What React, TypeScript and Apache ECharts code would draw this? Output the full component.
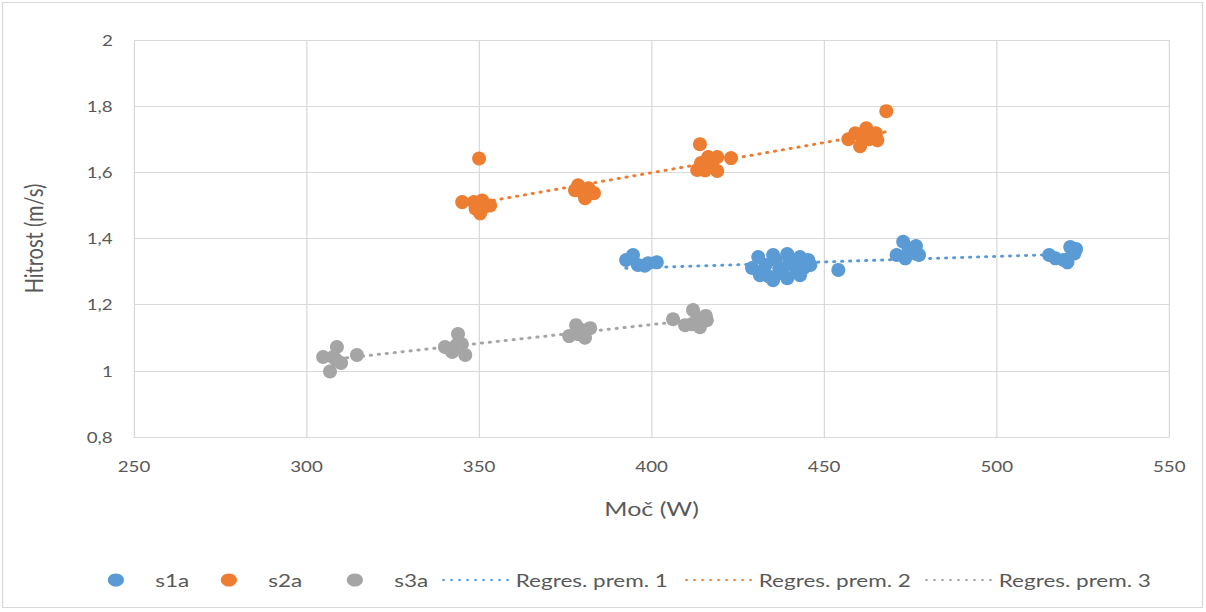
import React, { useEffect, useRef } from "react";
import * as echarts from "echarts";

type P = [number, number];

const s1a: P[] = [
  [394.6, 1.35], [392.6, 1.335], [396, 1.32], [399, 1.325], [401.5, 1.328], [398, 1.318],
  [430.9, 1.344], [435.2, 1.35], [439.3, 1.353], [443.0, 1.344], [445.4, 1.335],
  [431.4, 1.289], [435.2, 1.274], [439.3, 1.28], [443.0, 1.289], [429.1, 1.311], [445.0, 1.326],
  [433, 1.32], [437, 1.31], [441, 1.32], [436, 1.335], [440, 1.33], [444, 1.31],
  [432, 1.3], [438, 1.295], [442, 1.305], [434, 1.285], [446, 1.32],
  [454.1, 1.305],
  [472.9, 1.39], [476.6, 1.377], [471, 1.35], [473.5, 1.34], [476.8, 1.355], [474.5, 1.365], [477.5, 1.35],
  [515.2, 1.35], [521.3, 1.374], [523, 1.368], [519.4, 1.335], [517, 1.34], [522.5, 1.355], [520.5, 1.328],
];

const s2a: P[] = [
  [350, 1.642],
  [345.1, 1.51], [348.5, 1.51], [350.9, 1.515], [353.2, 1.5], [350.3, 1.476], [351.5, 1.495], [349, 1.49],
  [378.7, 1.561], [380, 1.54], [380.7, 1.522], [383.3, 1.537], [377.8, 1.546], [381.7, 1.552],
  [414, 1.685], [413.2, 1.607], [414.3, 1.628], [416.4, 1.646], [419, 1.646], [419, 1.604],
  [415.5, 1.606], [423, 1.643], [417.5, 1.625],
  [457, 1.70], [459, 1.718], [460.4, 1.679], [462.2, 1.733], [463, 1.70], [465, 1.718],
  [465.4, 1.697], [461.3, 1.70], [468, 1.785],
];

const s3a: P[] = [
  [304.8, 1.042], [307.7, 1.042], [308.8, 1.072], [306.8, 0.998], [310, 1.024], [308.6, 1.033], [314.6, 1.048],
  [340.1, 1.072], [342.2, 1.057], [343.9, 1.111], [345, 1.08], [346, 1.048], [341.6, 1.066], [343.5, 1.078],
  [376.1, 1.105], [378.1, 1.138], [379.9, 1.123], [382.2, 1.129], [380.7, 1.1], [378.7, 1.111],
  [406.2, 1.156], [412, 1.184], [409.7, 1.138], [411.7, 1.141], [414, 1.132], [416, 1.153], [415.7, 1.166], [413.2, 1.16],
];

const seriesNames = ["s1a", "s2a", "s3a"];
const trendNames = ["Regres. prem. 1", "Regres. prem. 2", "Regres. prem. 3"];
const colors = ["#5b9bd5", "#ed7d31", "#a5a5a5"];
const xTicks = { min: 250, max: 550, interval: 50 };
const yTicks = { min: 0.8, max: 2, interval: 0.2 };

// horizontal stretch of the reference's rendering
const SX = 1.25;

function linearFit(pts: P[]): P[] {
  const n = pts.length;
  let sx = 0, sy = 0, sxx = 0, sxy = 0;
  for (const [x, y] of pts) { sx += x; sy += y; sxx += x * x; sxy += x * y; }
  const b = (n * sxy - sx * sy) / (n * sxx - sx * sx);
  const a = (sy - b * sx) / n;
  const xs = pts.map((p) => p[0]);
  const x0 = Math.min(...xs), x1 = Math.max(...xs);
  return [[x0, a + b * x0], [x1, a + b * x1]];
}

export default function App() {
  const ref = useRef<HTMLDivElement>(null);
  useEffect(() => {
    if (!ref.current) return;
    const chart = echarts.init(ref.current, null, { renderer: "svg" });
    const font = "Lato, 'Liberation Sans', sans-serif";
    const data = [s1a, s2a, s3a];
    const scatter = data.map((d, i) => ({
      name: seriesNames[i],
      type: "scatter",
      data: d,
      symbol: "circle",
      symbolSize: [14 / SX, 14],
      itemStyle: { color: colors[i], opacity: 1 },
      z: 2,
    }));
    const trends = data.map((d, i) => ({
      name: trendNames[i],
      type: "line",
      data: linearFit(d),
      symbol: "none",
      lineStyle: { color: colors[i], width: 3, type: [0.4, 6], cap: "round" },
      itemStyle: { color: colors[i] },
      z: 3,
    }));
    const lt = { fontSize: 18, color: "#595959", fontFamily: font };
    // left edges of the legend entries, in screen pixels
    const scatterLegendLeft = [107.75, 220.75, 346.75];
    const trendLegendLeft = [442, 685, 925];
    const legendBase = {
      top: 571,
      padding: 0,
      itemWidth: 53,
      itemHeight: 13,
      textStyle: lt,
    };
    const legends = [
      ...seriesNames.map((n, i) => ({
        ...legendBase,
        left: scatterLegendLeft[i] / SX,
        data: [{ name: n, icon: "circle" }],
      })),
      ...trendNames.map((n, i) => ({
        ...legendBase,
        left: trendLegendLeft[i] / SX,
        data: [{ name: n, itemStyle: { opacity: 0 } }],
      })),
    ];
    chart.setOption({
      animation: false,
      backgroundColor: "#ffffff",
      textStyle: { fontFamily: font },
      graphic: [
        {
          type: "rect",
          shape: { x: 2.5 / SX, y: 2.5, width: 1200 / SX, height: 605 },
          style: { fill: "none", stroke: "#d9d9d9", lineWidth: 1 },
          silent: true,
        },
      ],
      grid: { left: 134 / SX, right: 37 / SX, top: 40, bottom: 175, containLabel: false },
      xAxis: {
        type: "value",
        min: xTicks.min,
        max: xTicks.max,
        interval: xTicks.interval,
        name: "Moč (W)",
        nameLocation: "middle",
        nameGap: 61,
        nameTextStyle: { fontSize: 20, color: "#595959", fontFamily: font },
        axisLine: { show: true, lineStyle: { color: "#d9d9d9", width: 1 } },
        axisTick: { show: false },
        axisLabel: { fontSize: 15, color: "#595959", margin: 22, fontFamily: font },
        splitLine: { show: true, lineStyle: { color: "#d9d9d9", width: 1 } },
      },
      yAxis: {
        type: "value",
        min: yTicks.min,
        max: yTicks.max,
        interval: yTicks.interval,
        name: "Hitrost (m/s)",
        nameLocation: "middle",
        nameGap: 70,
        nameTextStyle: { fontSize: 20, color: "#595959", fontFamily: font },
        axisLine: { show: false },
        axisTick: { show: false },
        axisLabel: {
          fontSize: 15,
          color: "#595959",
          margin: 17,
          fontFamily: font,
          formatter: (v: number) => String(Math.round(v * 10) / 10).replace(".", ","),
        },
        splitLine: { show: true, lineStyle: { color: "#d9d9d9", width: 1 } },
      },
      legend: legends,
      series: [...scatter, ...trends],
    });
    return () => chart.dispose();
  }, []);
  return (
    <div style={{ position: "absolute", left: 0, top: 0, width: 1206, height: 612, overflow: "hidden" }}>
      <div
        ref={ref}
        style={{
          width: 1206 / SX,
          height: 612,
          transform: `scaleX(${SX})`,
          transformOrigin: "0 0",
        }}
      />
    </div>
  );
}
